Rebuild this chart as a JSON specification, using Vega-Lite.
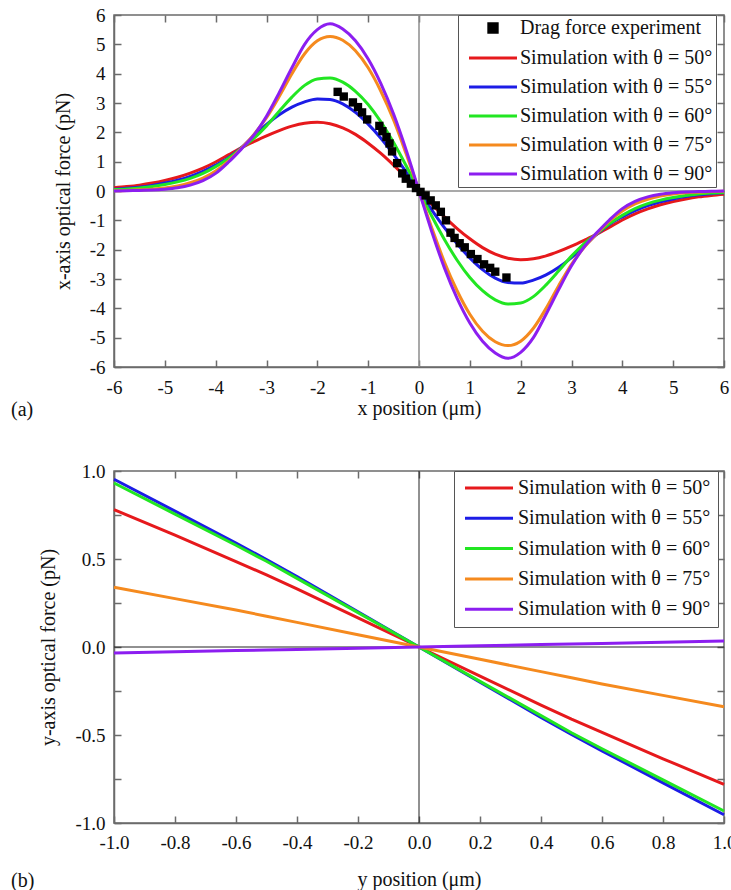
{
"$schema": "https://vega.github.io/schema/vega-lite/v6.json",
"background": "white",
"padding": {"left": 10, "top": 5, "right": 0, "bottom": 0},
"spacing": 40,
"config": {
  "font": "Liberation Serif",
  "view": {"stroke": "#6b6b6b", "strokeWidth": 1.5},
  "axis": {"domainColor": "#6b6b6b", "domainWidth": 1.5, "tickColor": "#6b6b6b", "tickWidth": 1.5, "tickSize": -7, "labelFont": "Liberation Serif", "labelFontSize": 19, "labelColor": "#111111", "titleFont": "Liberation Serif", "titleFontSize": 20, "titleFontWeight": "normal", "titleColor": "#111111", "grid": false, "labelPadding": 16, "titlePadding": 16, "labelFlush": false, "labelOverlap": false},
  "legend": {"labelFont": "Liberation Serif", "labelColor": "#111111", "labelLimit": 400, "strokeColor": "#555555", "fillColor": "white", "padding": 4, "symbolStrokeWidth": 3}
},
"resolve": {"scale": {"color": "independent"}, "legend": {"color": "independent"}},
"vconcat": [
{
  "width": 610, "height": 352,
  "title": {"text": "(a)", "orient": "bottom", "anchor": "start", "frame": "group", "dx": -103, "offset": -18, "font": "Liberation Serif", "fontSize": 20, "fontWeight": "normal", "color": "#111111"},
  "resolve": {"axis": {"x": "independent", "y": "independent"}},
  "layer": [
    {"data": {"values": [{"v": 0}]}, "mark": {"type": "rule", "color": "#8c8c8c", "strokeWidth": 1.5}, "encoding": {"x": {"field": "v", "type": "quantitative", "scale": {"domain": [-6, 6], "nice": false}, "axis": null}}},
    {"data": {"values": [{"v": 0}]}, "mark": {"type": "rule", "color": "#8c8c8c", "strokeWidth": 1.5}, "encoding": {"y": {"field": "v", "type": "quantitative", "scale": {"domain": [-6, 6], "nice": false}, "axis": null}}},
    {"data": {"values": [
{"s":"50","x":-6,"f":0.11},{"s":"50","x":-5.75,"f":0.15},{"s":"50","x":-5.5,"f":0.2},{"s":"50","x":-5.25,"f":0.27},{"s":"50","x":-5,"f":0.36},{"s":"50","x":-4.75,"f":0.47},{"s":"50","x":-4.5,"f":0.61},{"s":"50","x":-4.25,"f":0.78},{"s":"50","x":-4,"f":0.99},{"s":"50","x":-3.75,"f":1.23},{"s":"50","x":-3.5,"f":1.47},{"s":"50","x":-3.25,"f":1.68},{"s":"50","x":-3,"f":1.88},{"s":"50","x":-2.75,"f":2.06},{"s":"50","x":-2.5,"f":2.21},{"s":"50","x":-2.25,"f":2.31},{"s":"50","x":-2,"f":2.34},{"s":"50","x":-1.75,"f":2.29},{"s":"50","x":-1.5,"f":2.15},{"s":"50","x":-1.25,"f":1.93},{"s":"50","x":-1,"f":1.63},{"s":"50","x":-0.75,"f":1.28},{"s":"50","x":-0.5,"f":0.88},{"s":"50","x":-0.25,"f":0.45},{"s":"50","x":0,"f":0},{"s":"50","x":0.25,"f":-0.45},{"s":"50","x":0.5,"f":-0.88},{"s":"50","x":0.75,"f":-1.28},{"s":"50","x":1,"f":-1.63},{"s":"50","x":1.25,"f":-1.93},{"s":"50","x":1.5,"f":-2.15},{"s":"50","x":1.75,"f":-2.29},{"s":"50","x":2,"f":-2.34},{"s":"50","x":2.25,"f":-2.31},{"s":"50","x":2.5,"f":-2.21},{"s":"50","x":2.75,"f":-2.06},{"s":"50","x":3,"f":-1.88},{"s":"50","x":3.25,"f":-1.68},{"s":"50","x":3.5,"f":-1.47},{"s":"50","x":3.75,"f":-1.23},{"s":"50","x":4,"f":-0.99},{"s":"50","x":4.25,"f":-0.78},{"s":"50","x":4.5,"f":-0.61},{"s":"50","x":4.75,"f":-0.47},{"s":"50","x":5,"f":-0.36},{"s":"50","x":5.25,"f":-0.27},{"s":"50","x":5.5,"f":-0.2},{"s":"50","x":5.75,"f":-0.15},{"s":"50","x":6,"f":-0.11},
{"s":"55","x":-6,"f":0.06},{"s":"55","x":-5.75,"f":0.09},{"s":"55","x":-5.5,"f":0.13},{"s":"55","x":-5.25,"f":0.19},{"s":"55","x":-5,"f":0.27},{"s":"55","x":-4.75,"f":0.37},{"s":"55","x":-4.5,"f":0.5},{"s":"55","x":-4.25,"f":0.67},{"s":"55","x":-4,"f":0.88},{"s":"55","x":-3.75,"f":1.13},{"s":"55","x":-3.5,"f":1.47},{"s":"55","x":-3.25,"f":1.88},{"s":"55","x":-3,"f":2.27},{"s":"55","x":-2.75,"f":2.6},{"s":"55","x":-2.5,"f":2.86},{"s":"55","x":-2.25,"f":3.04},{"s":"55","x":-2,"f":3.14},{"s":"55","x":-1.75,"f":3.12},{"s":"55","x":-1.5,"f":2.97},{"s":"55","x":-1.25,"f":2.68},{"s":"55","x":-1,"f":2.28},{"s":"55","x":-0.75,"f":1.8},{"s":"55","x":-0.5,"f":1.25},{"s":"55","x":-0.25,"f":0.64},{"s":"55","x":0,"f":0},{"s":"55","x":0.25,"f":-0.64},{"s":"55","x":0.5,"f":-1.25},{"s":"55","x":0.75,"f":-1.8},{"s":"55","x":1,"f":-2.28},{"s":"55","x":1.25,"f":-2.68},{"s":"55","x":1.5,"f":-2.97},{"s":"55","x":1.75,"f":-3.12},{"s":"55","x":2,"f":-3.14},{"s":"55","x":2.25,"f":-3.04},{"s":"55","x":2.5,"f":-2.86},{"s":"55","x":2.75,"f":-2.6},{"s":"55","x":3,"f":-2.27},{"s":"55","x":3.25,"f":-1.88},{"s":"55","x":3.5,"f":-1.47},{"s":"55","x":3.75,"f":-1.13},{"s":"55","x":4,"f":-0.88},{"s":"55","x":4.25,"f":-0.67},{"s":"55","x":4.5,"f":-0.5},{"s":"55","x":4.75,"f":-0.37},{"s":"55","x":5,"f":-0.27},{"s":"55","x":5.25,"f":-0.19},{"s":"55","x":5.5,"f":-0.13},{"s":"55","x":5.75,"f":-0.09},{"s":"55","x":6,"f":-0.06},
{"s":"60","x":-6,"f":0.05},{"s":"60","x":-5.75,"f":0.07},{"s":"60","x":-5.5,"f":0.1},{"s":"60","x":-5.25,"f":0.15},{"s":"60","x":-5,"f":0.22},{"s":"60","x":-4.75,"f":0.31},{"s":"60","x":-4.5,"f":0.43},{"s":"60","x":-4.25,"f":0.6},{"s":"60","x":-4,"f":0.83},{"s":"60","x":-3.75,"f":1.11},{"s":"60","x":-3.5,"f":1.45},{"s":"60","x":-3.25,"f":1.79},{"s":"60","x":-3,"f":2.22},{"s":"60","x":-2.75,"f":2.72},{"s":"60","x":-2.5,"f":3.2},{"s":"60","x":-2.25,"f":3.6},{"s":"60","x":-2,"f":3.82},{"s":"60","x":-1.75,"f":3.85},{"s":"60","x":-1.5,"f":3.71},{"s":"60","x":-1.25,"f":3.4},{"s":"60","x":-1,"f":2.95},{"s":"60","x":-0.75,"f":2.36},{"s":"60","x":-0.5,"f":1.65},{"s":"60","x":-0.25,"f":0.85},{"s":"60","x":0,"f":0},{"s":"60","x":0.25,"f":-0.85},{"s":"60","x":0.5,"f":-1.65},{"s":"60","x":0.75,"f":-2.36},{"s":"60","x":1,"f":-2.95},{"s":"60","x":1.25,"f":-3.4},{"s":"60","x":1.5,"f":-3.71},{"s":"60","x":1.75,"f":-3.85},{"s":"60","x":2,"f":-3.82},{"s":"60","x":2.25,"f":-3.6},{"s":"60","x":2.5,"f":-3.2},{"s":"60","x":2.75,"f":-2.72},{"s":"60","x":3,"f":-2.22},{"s":"60","x":3.25,"f":-1.79},{"s":"60","x":3.5,"f":-1.45},{"s":"60","x":3.75,"f":-1.11},{"s":"60","x":4,"f":-0.83},{"s":"60","x":4.25,"f":-0.6},{"s":"60","x":4.5,"f":-0.43},{"s":"60","x":4.75,"f":-0.31},{"s":"60","x":5,"f":-0.22},{"s":"60","x":5.25,"f":-0.15},{"s":"60","x":5.5,"f":-0.1},{"s":"60","x":5.75,"f":-0.07},{"s":"60","x":6,"f":-0.05},
{"s":"75","x":-6,"f":0.01},{"s":"75","x":-5.75,"f":0.02},{"s":"75","x":-5.5,"f":0.04},{"s":"75","x":-5.25,"f":0.06},{"s":"75","x":-5,"f":0.1},{"s":"75","x":-4.75,"f":0.17},{"s":"75","x":-4.5,"f":0.28},{"s":"75","x":-4.25,"f":0.44},{"s":"75","x":-4,"f":0.68},{"s":"75","x":-3.75,"f":1.02},{"s":"75","x":-3.5,"f":1.45},{"s":"75","x":-3.25,"f":1.92},{"s":"75","x":-3,"f":2.5},{"s":"75","x":-2.75,"f":3.22},{"s":"75","x":-2.5,"f":4.0},{"s":"75","x":-2.25,"f":4.68},{"s":"75","x":-2,"f":5.12},{"s":"75","x":-1.75,"f":5.27},{"s":"75","x":-1.5,"f":5.14},{"s":"75","x":-1.25,"f":4.78},{"s":"75","x":-1,"f":4.2},{"s":"75","x":-0.75,"f":3.4},{"s":"75","x":-0.5,"f":2.42},{"s":"75","x":-0.25,"f":1.25},{"s":"75","x":0,"f":0},{"s":"75","x":0.25,"f":-1.25},{"s":"75","x":0.5,"f":-2.42},{"s":"75","x":0.75,"f":-3.4},{"s":"75","x":1,"f":-4.2},{"s":"75","x":1.25,"f":-4.78},{"s":"75","x":1.5,"f":-5.14},{"s":"75","x":1.75,"f":-5.27},{"s":"75","x":2,"f":-5.12},{"s":"75","x":2.25,"f":-4.68},{"s":"75","x":2.5,"f":-4.0},{"s":"75","x":2.75,"f":-3.22},{"s":"75","x":3,"f":-2.5},{"s":"75","x":3.25,"f":-1.92},{"s":"75","x":3.5,"f":-1.45},{"s":"75","x":3.75,"f":-1.02},{"s":"75","x":4,"f":-0.68},{"s":"75","x":4.25,"f":-0.44},{"s":"75","x":4.5,"f":-0.28},{"s":"75","x":4.75,"f":-0.17},{"s":"75","x":5,"f":-0.1},{"s":"75","x":5.25,"f":-0.06},{"s":"75","x":5.5,"f":-0.04},{"s":"75","x":5.75,"f":-0.02},{"s":"75","x":6,"f":-0.01},
{"s":"90","x":-6,"f":0},{"s":"90","x":-5.75,"f":0.01},{"s":"90","x":-5.5,"f":0.02},{"s":"90","x":-5.25,"f":0.03},{"s":"90","x":-5,"f":0.06},{"s":"90","x":-4.75,"f":0.11},{"s":"90","x":-4.5,"f":0.2},{"s":"90","x":-4.25,"f":0.35},{"s":"90","x":-4,"f":0.6},{"s":"90","x":-3.75,"f":0.98},{"s":"90","x":-3.5,"f":1.42},{"s":"90","x":-3.25,"f":1.9},{"s":"90","x":-3,"f":2.55},{"s":"90","x":-2.75,"f":3.35},{"s":"90","x":-2.5,"f":4.2},{"s":"90","x":-2.25,"f":5.0},{"s":"90","x":-2,"f":5.5},{"s":"90","x":-1.75,"f":5.7},{"s":"90","x":-1.5,"f":5.52},{"s":"90","x":-1.25,"f":5.12},{"s":"90","x":-1,"f":4.5},{"s":"90","x":-0.75,"f":3.66},{"s":"90","x":-0.5,"f":2.62},{"s":"90","x":-0.25,"f":1.38},{"s":"90","x":0,"f":0},{"s":"90","x":0.25,"f":-1.38},{"s":"90","x":0.5,"f":-2.62},{"s":"90","x":0.75,"f":-3.66},{"s":"90","x":1,"f":-4.5},{"s":"90","x":1.25,"f":-5.12},{"s":"90","x":1.5,"f":-5.52},{"s":"90","x":1.75,"f":-5.7},{"s":"90","x":2,"f":-5.5},{"s":"90","x":2.25,"f":-5.0},{"s":"90","x":2.5,"f":-4.2},{"s":"90","x":2.75,"f":-3.35},{"s":"90","x":3,"f":-2.55},{"s":"90","x":3.25,"f":-1.9},{"s":"90","x":3.5,"f":-1.42},{"s":"90","x":3.75,"f":-0.98},{"s":"90","x":4,"f":-0.6},{"s":"90","x":4.25,"f":-0.35},{"s":"90","x":4.5,"f":-0.2},{"s":"90","x":4.75,"f":-0.11},{"s":"90","x":5,"f":-0.06},{"s":"90","x":5.25,"f":-0.03},{"s":"90","x":5.5,"f":-0.02},{"s":"90","x":5.75,"f":-0.01},{"s":"90","x":6,"f":0}
    ]},
    "mark": {"type": "line", "strokeWidth": 3, "interpolate": "monotone"},
    "encoding": {
      "x": {"field": "x", "type": "quantitative", "scale": {"domain": [-6, 6], "nice": false}, "axis": {"orient": "bottom", "values": [-6,-5,-4,-3,-2,-1,0,1,2,3,4,5,6], "title": "x position (μm)", "labelExpr": "datum.value < 0 ? '-' + abs(datum.value) : '' + datum.value", "labelFont": "Liberation Serif", "labelFontSize": 19, "labelPadding": 18, "titlePadding": 1, "encode": {"labels": {"update": {"font": {"value": "Liberation Serif"}}}}}},
      "y": {"field": "f", "type": "quantitative", "scale": {"domain": [-6, 6], "nice": false}, "axis": {"orient": "left", "values": [-6,-5,-4,-3,-2,-1,0,1,2,3,4,5,6], "title": "x-axis optical force (pN)", "labelExpr": "datum.value < 0 ? '-' + abs(datum.value) : '' + datum.value", "labelFont": "Liberation Serif", "labelFontSize": 19, "encode": {"labels": {"update": {"font": {"value": "Liberation Serif"}}}}}},
      "color": {"field": "s", "type": "nominal",
        "scale": {"domain": ["exp","50","55","60","75","90"], "range": ["#000000","#e6191c","#1c1ce6","#22e622","#f58a1e","#8c1ef0"]},
        "legend": {"orient": "none", "legendX": 344, "legendY": 0, "title": null,
          "labelExpr": "datum.value == 'exp' ? 'Drag force experiment' : 'Simulation with θ = ' + datum.value + '°'",
          "labelFont": "Liberation Serif", "labelFontSize": 20, "symbolType": "M-4,0H4", "symbolSize": 144, "symbolOffset": 22, "labelOffset": 17, "rowPadding": 9, "padding": 3,
          "encode": {"symbols": {"update": {
            "shape": {"signal": "datum.value == 'exp' ? 'square' : 'M-4,0H4'"},
            "size": {"signal": "datum.value == 'exp' ? 70 : 144"},
            "fill": {"signal": "datum.value == 'exp' ? '#000000' : 'transparent'"},
            "stroke": {"signal": "datum.value == 'exp' ? 'transparent' : datum.value == '50' ? '#e6191c' : datum.value == '55' ? '#1c1ce6' : datum.value == '60' ? '#22e622' : datum.value == '75' ? '#f58a1e' : '#8c1ef0'"},
            "strokeWidth": {"value": 3},
            "opacity": {"value": 1}
          }}, "labels": {"update": {"font": {"value": "Liberation Serif"}}}}}
      }
    }},
    {"data": {"values": [
{"s":"exp","x":-1.6,"f":3.38},{"s":"exp","x":-1.48,"f":3.22},{"s":"exp","x":-1.3,"f":3.02},{"s":"exp","x":-1.2,"f":2.86},{"s":"exp","x":-1.12,"f":2.68},{"s":"exp","x":-1.02,"f":2.44},{"s":"exp","x":-0.78,"f":2.22},{"s":"exp","x":-0.72,"f":2.04},{"s":"exp","x":-0.64,"f":1.84},{"s":"exp","x":-0.58,"f":1.62},{"s":"exp","x":-0.53,"f":1.35},{"s":"exp","x":-0.43,"f":0.95},{"s":"exp","x":-0.33,"f":0.6},{"s":"exp","x":-0.26,"f":0.42},{"s":"exp","x":-0.16,"f":0.25},{"s":"exp","x":-0.06,"f":0.1},{"s":"exp","x":0.03,"f":-0.03},{"s":"exp","x":0.13,"f":-0.15},{"s":"exp","x":0.23,"f":-0.32},{"s":"exp","x":0.33,"f":-0.49},{"s":"exp","x":0.43,"f":-0.71},{"s":"exp","x":0.53,"f":-1.0},{"s":"exp","x":0.62,"f":-1.42},{"s":"exp","x":0.7,"f":-1.6},{"s":"exp","x":0.8,"f":-1.78},{"s":"exp","x":0.9,"f":-1.92},{"s":"exp","x":1.02,"f":-2.15},{"s":"exp","x":1.15,"f":-2.32},{"s":"exp","x":1.28,"f":-2.5},{"s":"exp","x":1.4,"f":-2.62},{"s":"exp","x":1.5,"f":-2.75},{"s":"exp","x":1.72,"f":-2.95}
    ]},
    "mark": {"type": "point", "shape": "square", "filled": true, "size": 70, "opacity": 1},
    "encoding": {
      "x": {"field": "x", "type": "quantitative", "axis": {"orient": "top", "values": [-6,-5,-4,-3,-2,-1,0,1,2,3,4,5,6], "labels": false, "title": null, "domain": false}},
      "y": {"field": "f", "type": "quantitative", "axis": {"orient": "right", "values": [-6,-5,-4,-3,-2,-1,0,1,2,3,4,5,6], "labels": false, "title": null, "domain": false}},
      "color": {"field": "s", "type": "nominal"}
    }}
  ]
},
{
  "width": 610, "height": 352,
  "title": {"text": "(b)", "orient": "bottom", "anchor": "start", "frame": "group", "dx": -103, "offset": -18, "font": "Liberation Serif", "fontSize": 20, "fontWeight": "normal", "color": "#111111"},
  "resolve": {"axis": {"x": "independent", "y": "independent"}},
  "layer": [
    {"data": {"values": [{"v": 0}]}, "mark": {"type": "rule", "color": "#222222", "strokeWidth": 1}, "encoding": {"x": {"field": "v", "type": "quantitative", "scale": {"domain": [-1, 1], "nice": false}, "axis": null}}},
    {"data": {"values": [{"v": 0}]}, "mark": {"type": "rule", "color": "#222222", "strokeWidth": 1}, "encoding": {"y": {"field": "v", "type": "quantitative", "scale": {"domain": [-1, 1], "nice": false}, "axis": null}}},
    {"data": {"values": [
{"s":"50","x":-1,"f":0.78},{"s":"50","x":-0.8,"f":0.635},{"s":"50","x":-0.6,"f":0.485},{"s":"50","x":-0.5,"f":0.41},{"s":"50","x":-0.4,"f":0.33},{"s":"50","x":-0.2,"f":0.165},{"s":"50","x":0,"f":0},{"s":"50","x":0.2,"f":-0.165},{"s":"50","x":0.4,"f":-0.33},{"s":"50","x":0.5,"f":-0.41},{"s":"50","x":0.6,"f":-0.485},{"s":"50","x":0.8,"f":-0.635},{"s":"50","x":1,"f":-0.78},
{"s":"55","x":-1,"f":0.953},{"s":"55","x":-0.8,"f":0.772},{"s":"55","x":-0.6,"f":0.59},{"s":"55","x":-0.5,"f":0.497},{"s":"55","x":-0.4,"f":0.4},{"s":"55","x":-0.2,"f":0.2},{"s":"55","x":0,"f":0},{"s":"55","x":0.2,"f":-0.2},{"s":"55","x":0.4,"f":-0.4},{"s":"55","x":0.5,"f":-0.497},{"s":"55","x":0.6,"f":-0.59},{"s":"55","x":0.8,"f":-0.772},{"s":"55","x":1,"f":-0.953},
{"s":"60","x":-1,"f":0.932},{"s":"60","x":-0.8,"f":0.755},{"s":"60","x":-0.6,"f":0.578},{"s":"60","x":-0.5,"f":0.487},{"s":"60","x":-0.4,"f":0.39},{"s":"60","x":-0.2,"f":0.195},{"s":"60","x":0,"f":0},{"s":"60","x":0.2,"f":-0.195},{"s":"60","x":0.4,"f":-0.39},{"s":"60","x":0.5,"f":-0.487},{"s":"60","x":0.6,"f":-0.578},{"s":"60","x":0.8,"f":-0.755},{"s":"60","x":1,"f":-0.932},
{"s":"75","x":-1,"f":0.34},{"s":"75","x":-0.8,"f":0.275},{"s":"75","x":-0.6,"f":0.21},{"s":"75","x":-0.5,"f":0.175},{"s":"75","x":-0.4,"f":0.14},{"s":"75","x":-0.2,"f":0.07},{"s":"75","x":0,"f":0},{"s":"75","x":0.2,"f":-0.07},{"s":"75","x":0.4,"f":-0.14},{"s":"75","x":0.5,"f":-0.175},{"s":"75","x":0.6,"f":-0.21},{"s":"75","x":0.8,"f":-0.275},{"s":"75","x":1,"f":-0.34},
{"s":"90","x":-1,"f":-0.034},{"s":"90","x":-0.8,"f":-0.027},{"s":"90","x":-0.6,"f":-0.02},{"s":"90","x":-0.5,"f":-0.017},{"s":"90","x":-0.4,"f":-0.014},{"s":"90","x":-0.2,"f":-0.007},{"s":"90","x":0,"f":0},{"s":"90","x":0.2,"f":0.007},{"s":"90","x":0.4,"f":0.014},{"s":"90","x":0.5,"f":0.017},{"s":"90","x":0.6,"f":0.02},{"s":"90","x":0.8,"f":0.027},{"s":"90","x":1,"f":0.034}
    ]},
    "mark": {"type": "line", "strokeWidth": 3},
    "encoding": {
      "x": {"field": "x", "type": "quantitative", "scale": {"domain": [-1, 1], "nice": false}, "axis": {"orient": "bottom", "values": [-1,-0.8,-0.6,-0.4,-0.2,0,0.2,0.4,0.6,0.8,1], "title": "y position (μm)", "labelExpr": "datum.value < 0 ? '-' + format(-datum.value, '.1f') : format(datum.value, '.1f')", "labelFont": "Liberation Serif", "labelFontSize": 19, "labelPadding": 17, "titlePadding": 17, "encode": {"labels": {"update": {"font": {"value": "Liberation Serif"}}}}}},
      "y": {"field": "f", "type": "quantitative", "scale": {"domain": [-1, 1], "nice": false}, "axis": {"orient": "left", "values": [-1,-0.75,-0.5,-0.25,0,0.25,0.5,0.75,1], "title": "y-axis optical force (pN)", "labelExpr": "abs(datum.value * 2 - round(datum.value * 2)) > 0.01 ? '' : (datum.value < 0 ? '-' + format(-datum.value, '.1f') : format(datum.value, '.1f'))", "labelFont": "Liberation Serif", "labelFontSize": 19, "encode": {"labels": {"update": {"font": {"value": "Liberation Serif"}}}}}},
      "color": {"field": "s", "type": "nominal",
        "scale": {"domain": ["50","55","60","75","90"], "range": ["#e6191c","#1c1ce6","#22e622","#f58a1e","#8c1ef0"]},
        "legend": {"orient": "none", "legendX": 340, "legendY": 0, "title": null,
          "labelExpr": "'Simulation with θ = ' + datum.value + '°'",
          "labelFont": "Liberation Serif", "labelFontSize": 20, "symbolType": "M-4,0H4", "symbolSize": 144, "symbolOffset": 18, "labelOffset": 19, "rowPadding": 10.3, "padding": 7,
          "encode": {"symbols": {"update": {
            "stroke": {"signal": "datum.value == '50' ? '#e6191c' : datum.value == '55' ? '#1c1ce6' : datum.value == '60' ? '#22e622' : datum.value == '75' ? '#f58a1e' : '#8c1ef0'"},
            "strokeWidth": {"value": 3},
            "opacity": {"value": 1}
          }}, "labels": {"update": {"font": {"value": "Liberation Serif"}}}}}
      }
    }},
    {"data": {"values": [{"x": 0, "f": 0}]},
    "mark": {"type": "point", "opacity": 0},
    "encoding": {
      "x": {"field": "x", "type": "quantitative", "axis": {"orient": "top", "values": [-1,-0.8,-0.6,-0.4,-0.2,0,0.2,0.4,0.6,0.8,1], "labels": false, "title": null, "domain": false}},
      "y": {"field": "f", "type": "quantitative", "axis": {"orient": "right", "values": [-1,-0.75,-0.5,-0.25,0,0.25,0.5,0.75,1], "labels": false, "title": null, "domain": false}}
    }}
  ]
}
]
}
